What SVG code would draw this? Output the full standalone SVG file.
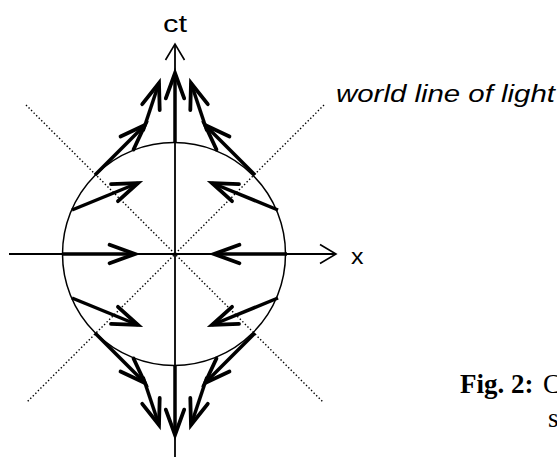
<svg xmlns="http://www.w3.org/2000/svg" xmlns:xlink="http://www.w3.org/1999/xlink" width="557" height="457" viewBox="0 0 557 457">
<style>
.ax{stroke:#000;stroke-width:1.8;fill:none}
.thin{stroke:#000;stroke-width:1.5;fill:none}
.dot{stroke:#000;stroke-width:1.4;stroke-dasharray:1.4 2.2;fill:none}
.th{stroke:#000;stroke-width:3.5;fill:none;marker-end:url(#h)}
.sans{font-family:"Liberation Sans",Arial,sans-serif;fill:#000}
.serif{font-family:"Liberation Serif","Times New Roman",serif;fill:#000}
</style>
<defs>
<marker id="h" markerUnits="userSpaceOnUse" viewBox="-30 -15 32 30" refX="0" refY="0" markerWidth="32" markerHeight="30" orient="auto" overflow="visible">
<path d="M-25.4,-9.2 L0,0 L-25.4,9.2" fill="none" stroke="#000" stroke-width="3.8" stroke-linecap="round" stroke-linejoin="miter"/>
</marker>
<marker id="a" markerUnits="userSpaceOnUse" viewBox="-20 -12 22 24" refX="0" refY="0" markerWidth="22" markerHeight="24" orient="auto" overflow="visible">
<path d="M-16,-9.5 L0,0 L-16,9.5" fill="none" stroke="#000" stroke-width="1.6"/>
</marker>
<g id="ul">
<line class="th" x1="72" y1="210" x2="138" y2="183"/>
<line class="th" x1="95" y1="175" x2="145" y2="125"/>
<line class="th" x1="143" y1="131" x2="159" y2="83"/>
</g>
</defs>
<g id="light-lines">
<line class="dot" x1="26" y1="105" x2="323" y2="402"/>
<line class="dot" x1="324" y1="105" x2="27" y2="402"/>
</g>
<g id="circle">
<circle class="thin" cx="174" cy="254" r="111.5"/>
</g>
<g id="axes">
<line class="ax" x1="175" y1="457" x2="175" y2="44" marker-end="url(#a)"/>
<line class="ax" x1="9" y1="254" x2="336" y2="254" marker-end="url(#a)"/>
</g>
<g id="connectors">
<line class="th" x1="175" y1="143" x2="175" y2="73"/>
<line class="th" x1="175" y1="365" x2="175" y2="435"/>
<line class="th" x1="62" y1="254" x2="135" y2="254"/>
<line class="th" x1="287" y1="254" x2="214" y2="254"/>
<use xlink:href="#ul"/>
<use xlink:href="#ul" transform="translate(350,0) scale(-1,1)"/>
<use xlink:href="#ul" transform="translate(0,508) scale(1,-1)"/>
<use xlink:href="#ul" transform="translate(350,508) scale(-1,-1)"/>
</g>
<g id="labels">
<text class="sans" x="163" y="32" font-size="23" textLength="24" lengthAdjust="spacingAndGlyphs">ct</text>
<text class="sans" x="351" y="264" font-size="22" textLength="12.5" lengthAdjust="spacingAndGlyphs">x</text>
<text class="sans" x="336" y="102" font-size="23" font-style="italic" textLength="219" lengthAdjust="spacingAndGlyphs">world line of light</text>
<text class="serif" x="460" y="393" font-size="27"><tspan font-weight="bold">Fig. 2:</tspan></text>
<text class="serif" x="543" y="393" font-size="27">C</text>
<text class="serif" x="548" y="427" font-size="27">s</text>
</g>
</svg>
